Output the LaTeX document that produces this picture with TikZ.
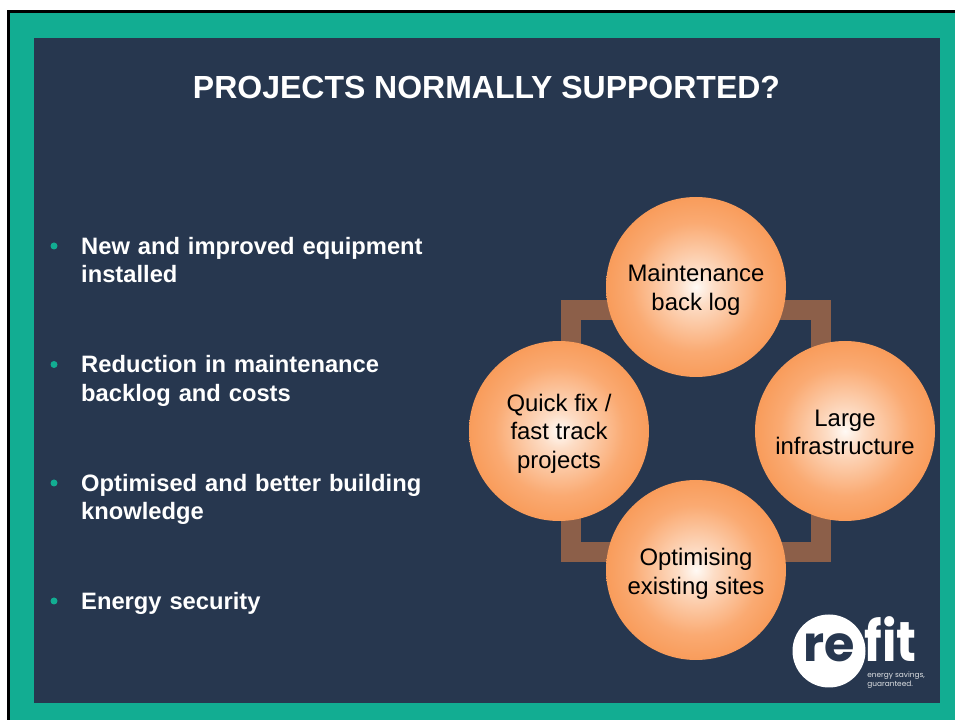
\documentclass[tikz,border=0pt]{standalone}
\usepackage{fontspec}
\setmainfont{Liberation Sans}
\newfontfamily\logofont{Poppins}
\definecolor{slidenavy}{HTML}{27374F}
\definecolor{slideteal}{HTML}{12AD92}
\definecolor{ringbrown}{HTML}{8C5F49}
\definecolor{ballouter}{HTML}{F6883A}
\definecolor{ballmid}{HTML}{FAAA72}
\definecolor{ballinner}{HTML}{FDDDC6}
\definecolor{ballcentre}{HTML}{FFFAF5}
\pgfdeclareradialshading{ballshade}{\pgfpoint{0bp}{0bp}}{%
  color(0bp)=(ballcentre); color(5bp)=(ballinner); color(18bp)=(ballmid); color(35bp)=(ballouter); color(50bp)=(ballouter)}
\tikzset{
  ball/.style={circle,minimum size=3.6cm,inner sep=0pt,shading=ballshade},
  balltext/.style={align=center,text=black,yshift=-0.06cm,
    font=\fontsize{13.6}{16.2}\selectfont},
  bullettext/.style={anchor=north west,align=left,text=white,text width=7.8cm,
    font=\fontsize{13.5}{16.2}\selectfont\bfseries},
  bulletdot/.style={circle,fill=slideteal,minimum size=0.14cm,inner sep=0pt},
}
\begin{document}
\begin{tikzpicture}
\useasboundingbox (0.000000,0.000000) rectangle (19.100000,14.400000);

% Drawing page and panel
\fill [white] (0.000000,0.000000) rectangle (19.100000,14.400000);
\fill [black] (0.140000,0.000000) rectangle (19.100000,14.200000);
\fill [slideteal] (0.200000,0.000000) rectangle (19.100000,14.140000);
\fill [slidenavy] (0.680000,0.340000) rectangle (18.800000,13.640000);

% Marking title
\node (title) [text=white,font=\fontsize{18.2}{22}\selectfont\bfseries] at (9.730000,12.660000) {PROJECTS NORMALLY SUPPORTED?};

% Marking bullets
\node (dota) [bulletdot] at (1.080000,9.480000) {};
\node (texta) [bullettext] at (1.500000,9.780000) {New and improved equipment\\installed};
\node (dotb) [bulletdot] at (1.080000,7.110000) {};
\node (textb) [bullettext] at (1.500000,7.410000) {Reduction in maintenance\\backlog and costs};
\node (dotc) [bulletdot] at (1.080000,4.740000) {};
\node (textc) [bullettext] at (1.500000,5.040000) {Optimised and better building\\knowledge};
\node (dotd) [bulletdot] at (1.080000,2.380000) {};
\node (textd) [bullettext] at (1.500000,2.680000) {Energy security};

% Drawing ring behind the circles
\draw [ringbrown,line width=0.4cm,line join=miter] (11.420000,8.200000) rectangle (16.420000,3.360000);

% Marking circles
\node (top) [ball] at (13.920000,8.660000) {};
\node (right) [ball] at (16.900000,5.780000) {};
\node (bottom) [ball] at (13.920000,3.000000) {};
\node (left) [ball] at (11.180000,5.780000) {};
\node (toplabel) [balltext] at (top) {Maintenance\\back log};
\node (rightlabel) [balltext,yshift=0.03cm] at (right) {Large\\infrastructure};
\node (bottomlabel) [balltext,yshift=-0.02cm] at (bottom) {Optimising\\existing sites};
\node (leftlabel) [balltext,yshift=0.01cm] at (left) {Quick fix /\\fast track\\projects};

% Drawing logo
\fill [white] (16.580000,1.380000) circle (0.730000);
\node (logore) [anchor=base,inner sep=0pt,text=slidenavy,font=\logofont\fontsize{28}{28}\selectfont\bfseries] at (16.590000,1.160000) {re};
\node (logofit) [anchor=base,inner sep=0pt,xscale=0.96,yscale=1.1,transform shape,text=white,font=\logofont\fontsize{29}{29}\selectfont\bfseries] at (17.810000,1.160000) {fit};
\node (logotag) [anchor=north west,align=left,text=white!85!slidenavy,inner sep=0pt,font=\logofont\fontsize{4.2}{5.1}\selectfont] at (17.340000,0.960000) {energy savings,\\guaranteed.};
\end{tikzpicture}
\end{document}
